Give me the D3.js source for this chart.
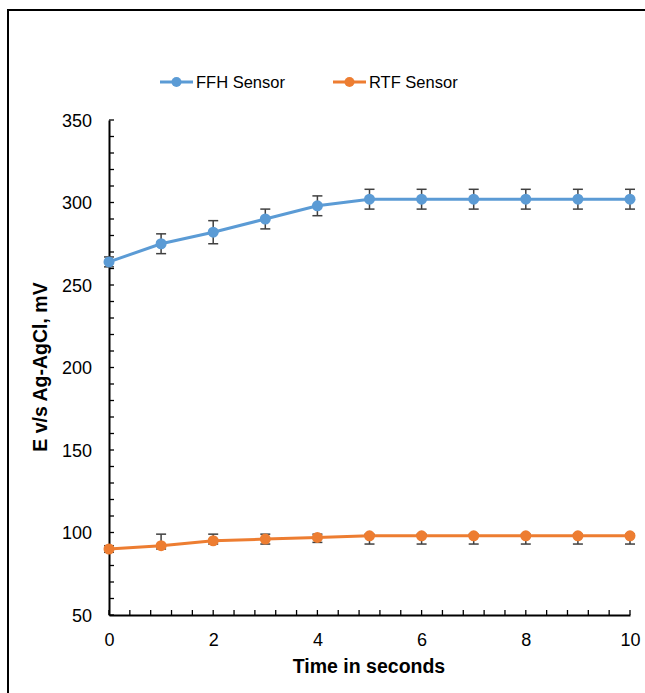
<!DOCTYPE html>
<html lang="en">
<head>
<meta charset="UTF-8">
<title>FFH vs RTF Sensor</title>
<script src="https://d3js.org/d3.v7.min.js"></script>
<style>
    body { margin: 0; background: #fff; }
    svg text { font-family: "Liberation Sans", Arial, sans-serif; fill: #000; }
    .tick text { font-size: 18px; }
</style>
</head>
<body>
<svg id="chart" width="645" height="693"></svg>
<script>
// data
const times = [0, 1, 2, 3, 4, 5, 6, 7, 8, 9, 10];
const ffh = [264, 275, 282, 290, 298, 302, 302, 302, 302, 302, 302];
const ffhErrPlus = [3, 6, 7, 6, 6, 6, 6, 6, 6, 6, 6];
const ffhErrMinus = [3, 6, 7, 6, 6, 6, 6, 6, 6, 6, 6];
const rtf = [90, 92, 95, 96, 97, 98, 98, 98, 98, 98, 98];
const rtfErrPlus = [2, 7, 4, 3, 2, 1, 1, 1, 1, 1, 1];
const rtfErrMinus = [2, 2, 2, 3, 3, 5, 5, 5, 5, 5, 5];
const seriesNames = ["FFH Sensor", "RTF Sensor"];
const colors = ["#5b9bd5", "#ed7d31"];
const yTicks = [50, 100, 150, 200, 250, 300, 350];
const xTicks = [0, 2, 4, 6, 8, 10];

const svg = d3.select("#chart");

// outer frame (runs off right/bottom edge like the reference)
svg.append("path")
    .attr("d", "M8,700 L8,10 L650,10")
    .attr("fill", "none").attr("stroke", "#000").attr("stroke-width", 2);

const x = d3.scaleLinear().domain([0, 10]).range([109, 630]);
const y = d3.scaleLinear().domain([50, 350]).range([615, 120]);

// minor ticks (inside)
const g = svg.append("g");
g.selectAll(".ymin").data(d3.range(50, 351, 10)).join("line")
    .attr("x1", x(0)).attr("x2", x(0) + 5)
    .attr("y1", d => y(d)).attr("y2", d => y(d))
    .attr("stroke", "#000").attr("stroke-width", 1.3);
g.selectAll(".xmin").data(d3.range(0, 25.5, 1).map(i => i * 0.4)).join("line")
    .attr("x1", d => x(d)).attr("x2", d => x(d))
    .attr("y1", y(50)).attr("y2", y(50) - 5)
    .attr("stroke", "#000").attr("stroke-width", 1.3);

// axes
const yAxis = svg.append("g").attr("transform", `translate(${x(0)},0)`)
    .call(d3.axisLeft(y).tickValues(yTicks).tickSize(0).tickPadding(17));
yAxis.select(".domain").attr("stroke", "#000").attr("stroke-width", 2);
yAxis.selectAll(".tick text").attr("dy", "0.35em");

const xAxis = svg.append("g").attr("transform", `translate(0,${y(50)})`)
    .call(d3.axisBottom(x).tickValues(xTicks).tickSize(0).tickPadding(18));
xAxis.select(".domain").attr("stroke", "#000").attr("stroke-width", 2);

// axis titles
svg.append("text").attr("x", 369).attr("y", 673).attr("text-anchor", "middle")
    .style("font-size", "19.5px").style("font-weight", "bold").text("Time in seconds");
svg.append("text").attr("transform", "translate(47,367) rotate(-90)").attr("text-anchor", "middle")
    .style("font-size", "19.5px").style("font-weight", "bold").text("E v/s Ag-AgCl, mV");

// series
const series = [
    { name: seriesNames[0], vals: ffh, plus: ffhErrPlus, minus: ffhErrMinus, color: colors[0] },
    { name: seriesNames[1], vals: rtf, plus: rtfErrPlus, minus: rtfErrMinus, color: colors[1] }
];
const line = d3.line().x((d, i) => x(times[i])).y(d => y(d));

series.forEach(s => {
    const sg = svg.append("g");
    sg.append("path").datum(s.vals).attr("d", line)
        .attr("fill", "none").attr("stroke", s.color).attr("stroke-width", 3);
    // error bars sit under the markers
    const eb = sg.selectAll(".err").data(s.vals).join("g").attr("class", "err");
    eb.append("line")
        .attr("x1", (d, i) => x(times[i])).attr("x2", (d, i) => x(times[i]))
        .attr("y1", (d, i) => y(d + s.plus[i])).attr("y2", (d, i) => y(d - s.minus[i]));
    eb.append("line")
        .attr("x1", (d, i) => x(times[i]) - 5).attr("x2", (d, i) => x(times[i]) + 5)
        .attr("y1", (d, i) => y(d + s.plus[i])).attr("y2", (d, i) => y(d + s.plus[i]));
    eb.append("line")
        .attr("x1", (d, i) => x(times[i]) - 5).attr("x2", (d, i) => x(times[i]) + 5)
        .attr("y1", (d, i) => y(d - s.minus[i])).attr("y2", (d, i) => y(d - s.minus[i]));
    eb.selectAll("line").attr("stroke", "#404040").attr("stroke-width", 1.5);
    sg.selectAll("circle").data(s.vals).join("circle")
        .attr("cx", (d, i) => x(times[i])).attr("cy", d => y(d)).attr("r", 5.5)
        .attr("fill", s.color);
});

// legend
const legendX = [160, 333];
series.forEach((s, i) => {
    const lg = svg.append("g").attr("transform", `translate(${legendX[i]},82)`);
    lg.append("line").attr("x1", 0).attr("x2", 33).attr("stroke", s.color).attr("stroke-width", 3);
    lg.append("circle").attr("cx", 16.5).attr("r", 5).attr("fill", s.color);
    lg.append("text").attr("x", 36).attr("dy", "0.35em").style("font-size", "16.5px").text(s.name);
});
</script>
</body>
</html>
